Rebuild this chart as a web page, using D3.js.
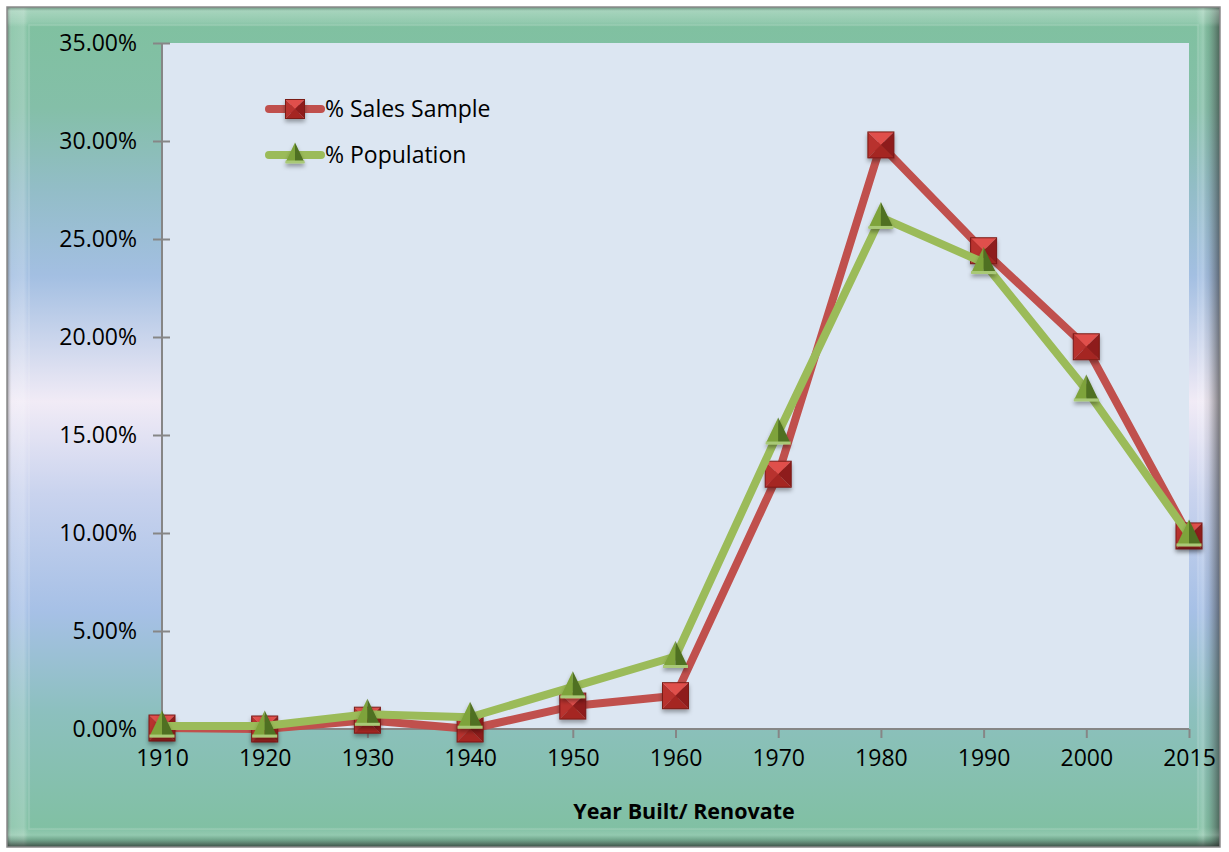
<!DOCTYPE html>
<html>
<head>
<meta charset="utf-8">
<script src="https://cdn.jsdelivr.net/npm/d3@7"></script>
<style>
  body { margin: 0; background: #fff; }
  svg { display: block; font-family: "Open Sans", sans-serif; }
</style>
</head>
<body>
<svg id="chart" width="1229" height="852"></svg>
<script>
const years = ['1910', '1920', '1930', '1940', '1950', '1960', '1970', '1980', '1990', '2000', '2015'];
const salesSample = [0.0005, 0.0, 0.0045, 0.0, 0.0117, 0.017, 0.130, 0.298, 0.244, 0.195, 0.0985];
const population = [0.0015, 0.0015, 0.0075, 0.006, 0.0215, 0.037, 0.151, 0.261, 0.238, 0.173, 0.099];
const yTicks = [0, 0.05, 0.10, 0.15, 0.20, 0.25, 0.30, 0.35];
const seriesNames = ['% Sales Sample', '% Population'];

const RED = '#c0504d';
const GREEN = '#9bbb59';

const svg = d3.select('#chart');
const W = 1229, H = 852;
const margin = { top: 43, right: 40, bottom: 123, left: 162 };
const plotW = W - margin.left - margin.right;
const plotH = H - margin.top - margin.bottom;

const defs = svg.append('defs');

// background gradient of the chart frame
const bg = defs.append('linearGradient').attr('id', 'bg').attr('x1', 0).attr('y1', 0).attr('x2', 0).attr('y2', 1);
[[0, '#7fc19f'], [0.12, '#84bfa8'], [0.22, '#93bdc8'], [0.32, '#a3bfe2'], [0.47, '#f1ebf6'],
 [0.58, '#c9d3ee'], [0.72, '#a6c0e6'], [0.84, '#8cc0be'], [1, '#7fc09f']]
  .forEach(([o, c]) => bg.append('stop').attr('offset', o).attr('stop-color', c));

const edgeL = defs.append('linearGradient').attr('id', 'edgeL');
[[0, 'rgba(60,60,60,0.55)'], [0.2, 'rgba(255,255,255,0.15)'], [0.7, 'rgba(255,255,255,0.22)'], [0.85, 'rgba(255,255,255,0.05)'], [1, 'rgba(255,255,255,0)']]
  .forEach(([o, c]) => edgeL.append('stop').attr('offset', o).attr('stop-color', c));
const edgeR = defs.append('linearGradient').attr('id', 'edgeR');
[[0, 'rgba(255,255,255,0)'], [0.3, 'rgba(255,255,255,0.2)'], [0.5, 'rgba(80,80,80,0.1)'], [1, 'rgba(40,40,40,0.6)']]
  .forEach(([o, c]) => edgeR.append('stop').attr('offset', o).attr('stop-color', c));
const edgeT = defs.append('linearGradient').attr('id', 'edgeT').attr('x2', 0).attr('y2', 1);
[[0, 'rgba(60,60,60,0.4)'], [0.2, 'rgba(255,255,255,0.3)'], [0.75, 'rgba(255,255,255,0.15)'], [1, 'rgba(255,255,255,0)']]
  .forEach(([o, c]) => edgeT.append('stop').attr('offset', o).attr('stop-color', c));
const edgeB = defs.append('linearGradient').attr('id', 'edgeB').attr('x2', 0).attr('y2', 1);
[[0, 'rgba(255,255,255,0)'], [0.4, 'rgba(255,255,255,0.15)'], [0.6, 'rgba(60,60,60,0.15)'], [1, 'rgba(30,30,30,0.7)']]
  .forEach(([o, c]) => edgeB.append('stop').attr('offset', o).attr('stop-color', c));

const shadow = defs.append('filter').attr('id', 'shadow').attr('x', '-50%').attr('y', '-50%').attr('width', '200%').attr('height', '200%');
shadow.append('feDropShadow').attr('dx', 0).attr('dy', 3).attr('stdDeviation', 2).attr('flood-color', '#000').attr('flood-opacity', 0.35);

// frame
const fx = 7, fy = 7, fw = 1213, fh = 840;
svg.append('rect').attr('x', fx).attr('y', fy).attr('width', fw).attr('height', fh).attr('fill', 'url(#bg)');
svg.append('rect').attr('x', fx).attr('y', fy).attr('width', 24).attr('height', fh).attr('fill', 'url(#edgeL)');
svg.append('rect').attr('x', fx + fw - 24).attr('y', fy).attr('width', 24).attr('height', fh).attr('fill', 'url(#edgeR)');
svg.append('rect').attr('x', fx).attr('y', fy).attr('width', fw).attr('height', 20).attr('fill', 'url(#edgeT)');
svg.append('rect').attr('x', fx).attr('y', fy + fh - 20).attr('width', fw).attr('height', 20).attr('fill', 'url(#edgeB)');
svg.append('rect').attr('x', fx + 22).attr('y', fy + 18).attr('width', fw - 44).attr('height', fh - 36)
  .attr('fill', 'none').attr('stroke', 'rgba(255,255,255,0.15)').attr('stroke-width', 1.5);
svg.append('rect').attr('x', fx).attr('y', fy).attr('width', fw).attr('height', fh)
  .attr('fill', 'none').attr('stroke', '#8a8a8a').attr('stroke-width', 1.5);

const x = d3.scalePoint().domain(years).range([0, plotW]);
const y = d3.scaleLinear().domain([0, 0.35]).range([plotH, 0]);

const g = svg.append('g').attr('transform', `translate(${margin.left},${margin.top})`);

g.append('rect').attr('width', plotW).attr('height', plotH).attr('fill', '#dce6f2');

// axes
const yAxis = g.append('g')
  .call(d3.axisLeft(y).tickValues(yTicks).tickFormat(d3.format('.2%')).tickSize(9).tickPadding(16));
yAxis.selectAll('.tick line').attr('x2', -9).attr('x1', 8);
const xAxis = g.append('g').attr('transform', `translate(0,${plotH})`)
  .call(d3.axisBottom(x).tickSize(9).tickPadding(12));
[yAxis, xAxis].forEach(a => {
  a.select('.domain').attr('stroke', '#868686').attr('stroke-width', 2);
  a.selectAll('.tick line').attr('stroke', '#868686').attr('stroke-width', 2);
  a.selectAll('text').attr('font-size', 23).attr('fill', '#000').attr('font-family', '"Open Sans", sans-serif');
});
xAxis.select('.domain').attr('d', `M0,0H${plotW}`);
yAxis.select('.domain').attr('d', `M0,${plotH}V0`);

svg.append('text').attr('x', 684).attr('y', 819).attr('text-anchor', 'middle')
  .attr('font-size', 21.5).attr('font-weight', 'bold').text('Year Built/ Renovate');

// markers
function squareMarker(sel, s) {
  const h = s / 2;
  sel.append('polygon').attr('points', `${-h},${-h} ${h},${-h} 0,0`).attr('fill', '#e0504c');
  sel.append('polygon').attr('points', `${-h},${-h} 0,0 ${-h},${h}`).attr('fill', '#b8302d');
  sel.append('polygon').attr('points', `${h},${-h} ${h},${h} 0,0`).attr('fill', '#8e1c1a');
  sel.append('polygon').attr('points', `${-h},${h} 0,0 ${h},${h}`).attr('fill', '#a52523');
  sel.append('rect').attr('x', -h).attr('y', -h).attr('width', s).attr('height', s)
    .attr('fill', 'none').attr('stroke', '#7a1a18').attr('stroke-width', 1);
}
function triangleMarker(sel, s) {
  const h = s / 2;
  sel.append('polygon').attr('points', `0,${-h - 3} ${-h},${h - 2} 0,${h - 2}`).attr('fill', '#7ea33a');
  sel.append('polygon').attr('points', `0,${-h - 3} 0,${h - 2} ${h},${h - 2}`).attr('fill', '#4f7020');
  sel.append('rect').attr('x', -h).attr('y', h - 4).attr('width', s).attr('height', 3).attr('fill', '#a9c977');
}

const line = d3.line().x((d, i) => x(years[i])).y(d => y(d));
const series = [
  { name: seriesNames[0], values: salesSample, color: RED, marker: squareMarker, size: 26 },
  { name: seriesNames[1], values: population, color: GREEN, marker: triangleMarker, size: 25 }
];

series.forEach(s => {
  g.append('path').datum(s.values).attr('d', line)
    .attr('fill', 'none').attr('stroke', s.color).attr('stroke-width', 8).attr('stroke-linejoin', 'round');
  g.selectAll(null).data(s.values).enter().append('g')
    .attr('transform', (d, i) => `translate(${x(years[i])},${y(d)})`)
    .attr('filter', 'url(#shadow)')
    .each(function () { s.marker(d3.select(this), s.size); });
});

// legend
const legend = svg.append('g').attr('transform', 'translate(265,109)');
series.forEach((s, i) => {
  const row = legend.append('g').attr('transform', `translate(0,${i * 46})`);
  row.append('line').attr('x1', 4).attr('x2', 56).attr('stroke', s.color).attr('stroke-width', 8).attr('stroke-linecap', 'round');
  const m = row.append('g').attr('transform', 'translate(30,0)').attr('filter', 'url(#shadow)');
  s.marker(m, 19);
  row.append('text').attr('x', 60).attr('y', 0).attr('dy', '0.35em').attr('font-size', 23).text(s.name);
});
</script>
</body>
</html>
